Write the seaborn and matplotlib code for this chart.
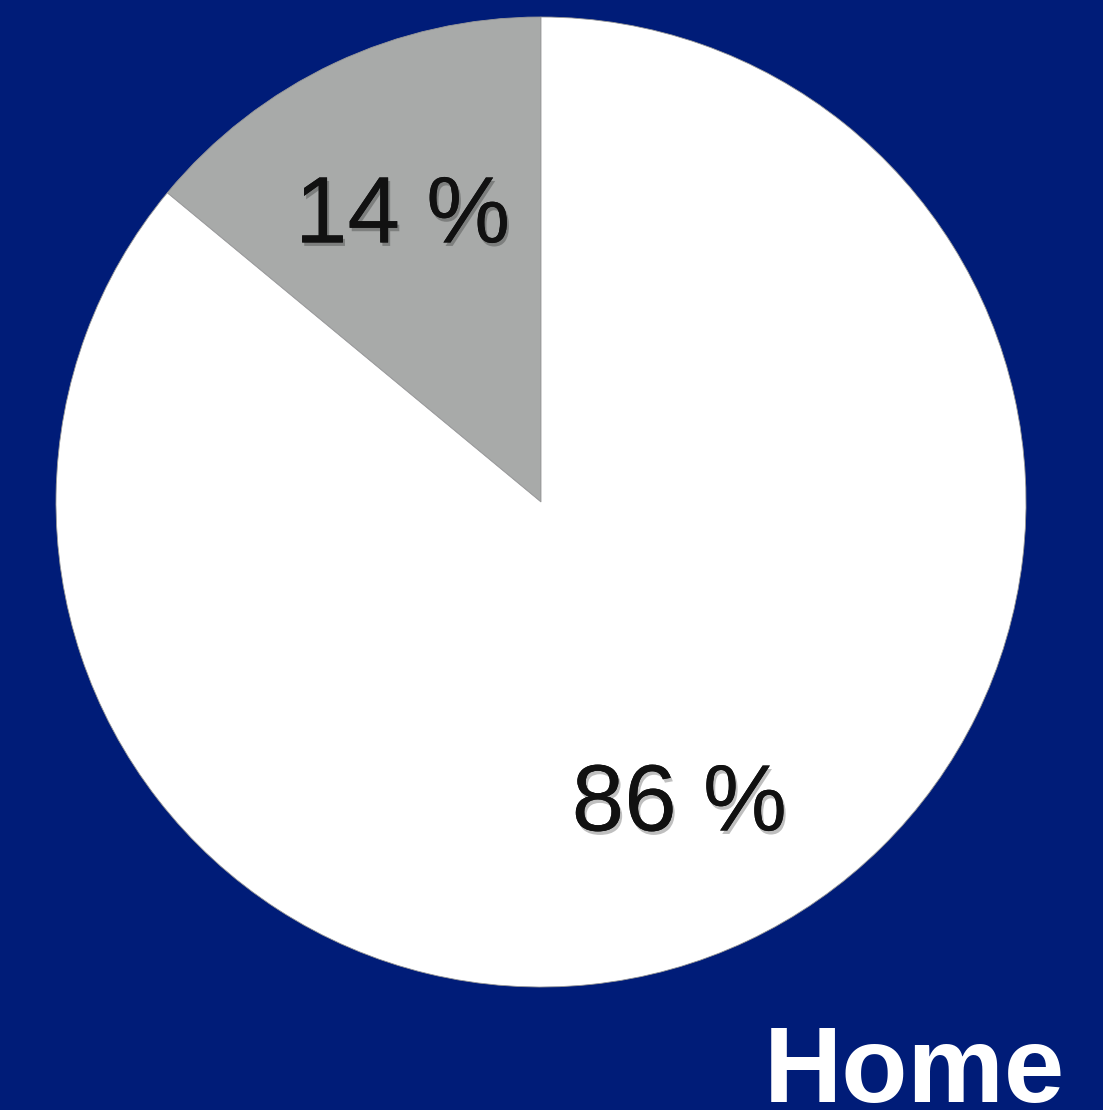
import matplotlib
matplotlib.use("Agg")
import matplotlib.pyplot as plt
import matplotlib.patheffects as pe
import seaborn as sns

labels = ["Other", "Home"]
values = [14, 86]
colors = ["#A8AAA9", "#FFFFFF"]
title = "Home"
bg = "#001C78"

sns.set_style("white")
plt.rcParams['font.family'] = ['Liberation Sans', 'DejaVu Sans']

fig = plt.figure(figsize=(11.03, 11.10), dpi=100, facecolor=bg)
ax = fig.add_axes([56/1103, 123/1110, 970/1103, 970/1110])
ax.set_facecolor(bg)

wedges, texts, autotexts = ax.pie(
    values, colors=colors, startangle=90, counterclock=True,
    autopct=lambda p: f"{p:.0f} %", pctdistance=0.67,
    wedgeprops=dict(linewidth=0.6, edgecolor="#999999"),
    textprops=dict(fontsize=68, color="#111111"),
)
for t in autotexts:
    t.set_va("center_baseline")
    t.set_path_effects([pe.withSimplePatchShadow(offset=(1.5, -2.5), alpha=0.25, shadow_rgbFace="black"), pe.Normal()])
ax.set_xlim(-1, 1)
ax.set_ylim(-1, 1)
ax.axis("off")

fig.text(1065/1103, 1 - 1102/1110, title, ha="right", va="baseline",
         fontsize=78, fontweight="bold", color="white")

fig.savefig("out.png", dpi=100, facecolor=bg)
